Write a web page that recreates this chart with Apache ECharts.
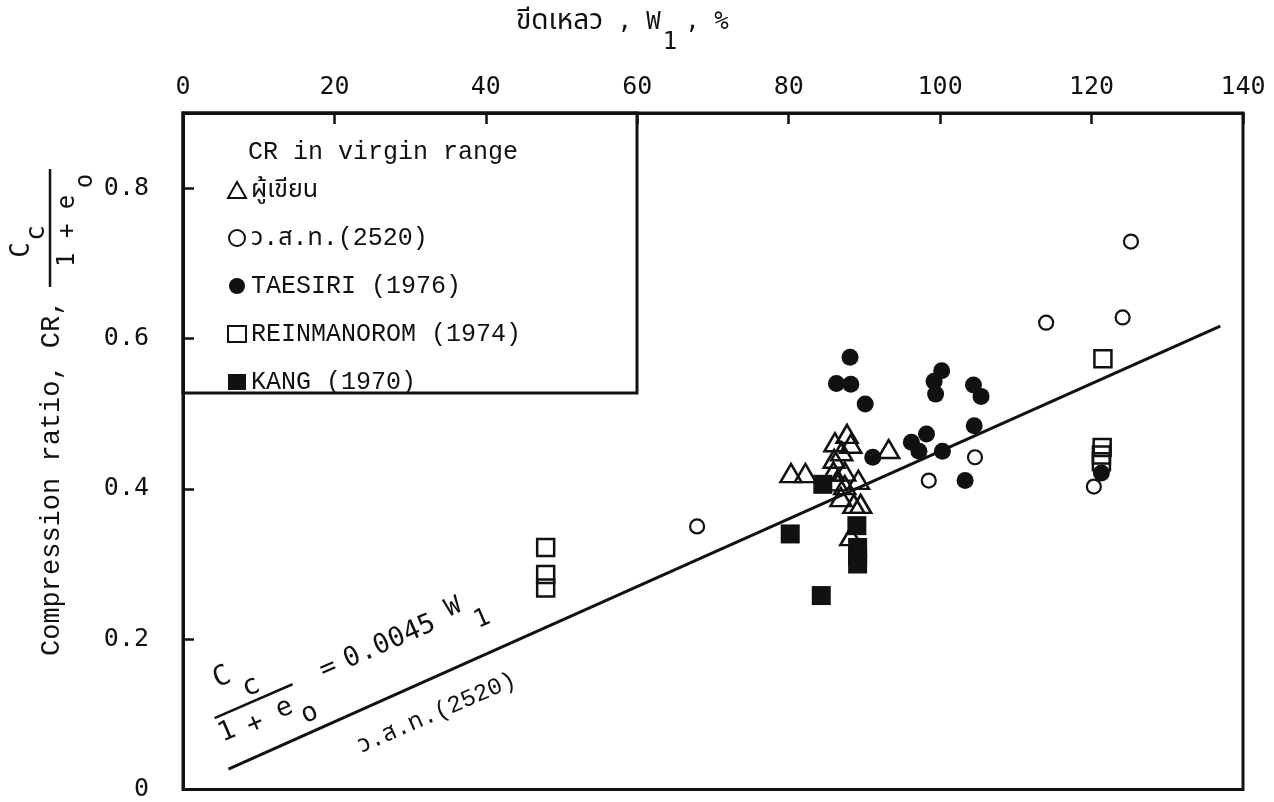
<!DOCTYPE html>
<html>
<head>
<meta charset="utf-8">
<script src="https://cdn.jsdelivr.net/npm/echarts@6/dist/echarts.min.js"></script>
<style>
  html, body { margin: 0; padding: 0; background: #ffffff; overflow: hidden; }
  #chart { width: 1274px; height: 802px; }
</style>
</head>
<body>
<div id="chart"></div>
<script>
// ---- data: liquid limit (w_l, %) vs compression ratio CR = Cc / (1 + e0) ----
const xTickValues = [0, 20, 40, 60, 80, 100, 120, 140];
const yTickValues = [0, 0.2, 0.4, 0.6, 0.8];

const seriesNames = ['ผู้เขียน', 'ว.ส.ท.(2520)', 'TAESIRI (1976)', 'REINMANOROM (1974)', 'KANG (1970)'];

// ผู้เขียน (open triangles)
const authorW  = [80.3, 82.2, 87.7, 86.1, 88.2, 87.0, 86.0, 93.2, 85.9, 87.4, 86.3, 89.2, 87.4, 86.9, 88.6, 89.5, 88.2];
const authorCR = [0.421, 0.421, 0.473, 0.462, 0.460, 0.450, 0.440, 0.453, 0.423, 0.423, 0.410, 0.412, 0.405, 0.389, 0.380, 0.380, 0.337];

// ว.ส.ท. (2520) (open circles)
const eitW  = [67.9, 98.5, 104.6, 114.0, 120.3, 124.1, 125.2];
const eitCR = [0.350, 0.411, 0.442, 0.621, 0.403, 0.628, 0.729];

// TAESIRI (1976) (filled circles)
const taesiriW  = [88.1, 86.3, 88.2, 90.1, 91.1, 100.2, 99.2, 99.4, 98.2, 96.2, 97.2, 100.3, 104.4, 105.4, 104.5, 103.3, 121.3];
const taesiriCR = [0.575, 0.540, 0.539, 0.513, 0.442, 0.557, 0.543, 0.526, 0.473, 0.462, 0.450, 0.450, 0.538, 0.523, 0.484, 0.411, 0.421];

// REINMANOROM (1974) (open squares)
const reinW  = [47.9, 47.9, 47.9, 121.5, 121.4, 121.3, 121.3];
const reinCR = [0.322, 0.286, 0.268, 0.573, 0.455, 0.445, 0.436];

// KANG (1970) (filled squares)
const kangW  = [84.5, 80.2, 89.0, 89.1, 89.1, 89.1, 84.3];
const kangCR = [0.406, 0.340, 0.351, 0.322, 0.310, 0.300, 0.258];

// regression line  Cc/(1+e0) = 0.0045 w_l
const fitSlope = 0.0045;
const fitW = [6, 137];

// ---- helpers ----
const zip = (xs, ys) => xs.map((x, i) => [x, ys[i]]);
const SANS_MONO = '"DejaVu Sans Mono", "Noto Sans Thai", "Noto Sans", monospace';
const TYPE_MONO = '"Courier New", "Liberation Mono", "Noto Sans Thai", "Noto Sans", monospace';
const INK = '#111';

const chart = echarts.init(document.getElementById('chart'), null, { renderer: 'canvas' });

const hollow = { color: 'rgba(255,255,255,0)', borderColor: INK, borderWidth: 2.5, opacity: 1 };
const solid = { color: INK, borderColor: INK, borderWidth: 0, opacity: 1 };

function txt(x, y, text, size, family, extra, rotation) {
  const el = {
    type: 'text', x: x, y: y,
    style: Object.assign({
      text: text, fontSize: size, fontFamily: family, fill: INK,
      align: 'center', verticalAlign: 'middle'
    }, extra || {})
  };
  if (rotation) el.rotation = rotation;
  return el;
}

const option = {
  animation: false,
  backgroundColor: '#ffffff',
  grid: {
    left: 183, right: 31, top: 113, bottom: 8,
    show: true, borderColor: INK, borderWidth: 3, backgroundColor: 'transparent'
  },
  xAxis: {
    type: 'value', position: 'top',
    min: xTickValues[0], max: xTickValues[xTickValues.length - 1], interval: 20,
    axisLine: { show: true, onZero: false, lineStyle: { color: INK, width: 3 } },
    axisTick: { show: true, inside: true, length: 11, lineStyle: { color: INK, width: 2.5 } },
    axisLabel: { margin: 13, fontSize: 25, fontFamily: SANS_MONO, color: INK },
    splitLine: { show: false }
  },
  yAxis: {
    type: 'value',
    min: 0, max: 0.9, interval: 0.2,
    axisLine: { show: true, onZero: false, lineStyle: { color: INK, width: 3 } },
    axisTick: { show: true, inside: true, length: 11, lineStyle: { color: INK, width: 2.5 } },
    axisLabel: {
      margin: 34, fontSize: 25, fontFamily: SANS_MONO, color: INK, showMaxLabel: false,
      formatter: v => {
        const hit = yTickValues.find(t => Math.abs(t - v) < 1e-6);
        if (hit === undefined) return '';
        return hit === 0 ? '0' : hit.toFixed(1);
      }
    },
    splitLine: { show: false }
  },
  legend: {
    data: seriesNames,
    orient: 'vertical', left: 222, top: 172,
    itemWidth: 18, itemHeight: 16, itemGap: 22,
    selectedMode: false,
    textStyle: { fontFamily: TYPE_MONO, fontSize: 25, color: INK, lineHeight: 26 }
  },
  series: [
    {
      type: 'line', name: 'fit', silent: true,
      data: zip(fitW, fitW.map(w => fitSlope * w)),
      symbol: 'none', lineStyle: { color: INK, width: 3 }, z: 1
    },
    {
      type: 'scatter', name: seriesNames[0], data: zip(authorW, authorCR),
      symbol: 'triangle', symbolSize: [21, 18], itemStyle: hollow, z: 3
    },
    {
      type: 'scatter', name: seriesNames[1], data: zip(eitW, eitCR),
      symbol: 'circle', symbolSize: 14, itemStyle: Object.assign({}, hollow, { borderWidth: 2.2 }), z: 3
    },
    {
      type: 'scatter', name: seriesNames[2], data: zip(taesiriW, taesiriCR),
      symbol: 'circle', symbolSize: 17, itemStyle: solid, z: 3
    },
    {
      type: 'scatter', name: seriesNames[3], data: zip(reinW, reinCR),
      symbol: 'rect', symbolSize: 17, itemStyle: hollow, z: 3
    },
    {
      type: 'scatter', name: seriesNames[4], data: zip(kangW, kangCR),
      symbol: 'rect', symbolSize: 19, itemStyle: solid, z: 3
    }
  ],
  graphic: [
    // key box in the upper-left corner of the plot
    {
      type: 'rect', z: 2,
      shape: { x: 183, y: 113, width: 454, height: 280 },
      style: { fill: 'rgba(0,0,0,0)', stroke: INK, lineWidth: 3 }
    },
    txt(248, 152, 'CR in virgin range', 25, TYPE_MONO, { align: 'left' }),

    // top axis title:  ขีดเหลว , W_l , %
    {
      type: 'text', x: 516, y: 8,
      style: {
        text: '{t|ขีดเหลว}{a| , W}{s|1}{a|, %}',
        fill: INK,
        rich: {
          t: { fontSize: 28, fontFamily: TYPE_MONO, lineHeight: 32, verticalAlign: 'top', fill: INK },
          a: { fontSize: 24, fontFamily: SANS_MONO, lineHeight: 32, verticalAlign: 'top', padding: [3, 0, 0, 0], fill: INK },
          s: { fontSize: 24, fontFamily: SANS_MONO, lineHeight: 32, verticalAlign: 'top', padding: [23, 8, 0, 2], fill: INK }
        }
      }
    },

    // left axis title: Compression ratio, CR, Cc/(1+e0)
    txt(52, 656, 'Compression ratio, CR,', 27, TYPE_MONO, { align: 'left' }, Math.PI / 2),
    {
      type: 'group', x: 50, y: 287, rotation: Math.PI / 2,
      children: [
        { type: 'line', shape: { x1: 0, y1: 0, x2: 118, y2: 0 }, style: { stroke: INK, lineWidth: 2.5 } },
        txt(37, -28, 'C', 26, SANS_MONO),
        txt(54, -13, 'c', 26, SANS_MONO),
        txt(20, 18, '1 + e', 24, SANS_MONO, { align: 'left' }),
        txt(106, 36, 'o', 24, SANS_MONO)
      ]
    },

    // regression equation written along the line
    {
      type: 'group', x: 254, y: 701, rotation: 0.41,
      children: [
        { type: 'line', shape: { x1: -43, y1: 0, x2: 42, y2: 0 }, style: { stroke: INK, lineWidth: 2.5 } },
        txt(-20, -34, 'C', 28, SANS_MONO),
        txt(3, -14, 'c', 28, SANS_MONO),
        txt(-37, 18, '1', 27, SANS_MONO),
        txt(-8, 22, '+', 27, SANS_MONO),
        txt(25, 19, 'e', 27, SANS_MONO),
        txt(46, 34, 'o', 27, SANS_MONO),
        txt(81, 0, '=', 27, SANS_MONO),
        txt(148, 0, '0.0045', 27, SANS_MONO),
        txt(220, -6, 'W', 25, SANS_MONO),
        txt(242, 16, '1', 25, SANS_MONO),
        txt(163, 84, 'ว.ส.ท.(2520)', 24, TYPE_MONO)
      ]
    }
  ]
};

chart.setOption(option);
</script>
</body>
</html>
